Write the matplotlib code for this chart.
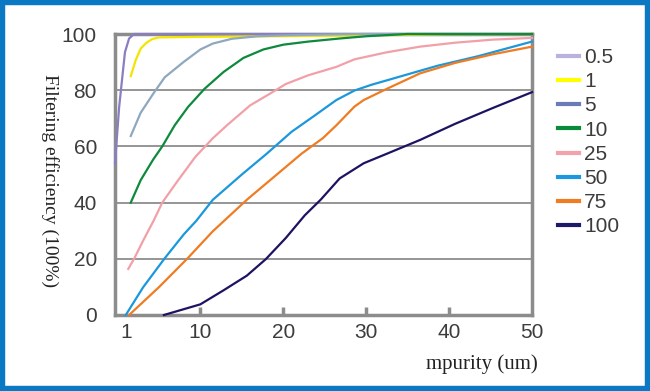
import numpy as np
import matplotlib.pyplot as plt
from matplotlib.lines import Line2D
from matplotlib.patches import Rectangle

# series (x = impurity size in um, y = efficiency %)
x_05 = [-0.3, 0.2, 0.45, 0.9, 1.4, 2.0, 50]
y_05 = [54, 74, 81, 93.5, 98.4, 100, 100]

x_1 = [1.6, 2.2, 2.8, 3.5, 4.2, 5.0, 10, 20, 30, 40, 50]
y_1 = [85, 90.7, 94.8, 96.9, 98.2, 98.8, 99.0, 99.2, 99.5, 99.9, 100]

x_5 = [1.6, 2.8, 4.3, 5.7, 8.0, 10, 11.5, 13.8, 16.9, 20, 25, 30, 40, 50]
y_5 = [63.7, 72, 78.7, 84.6, 90.1, 94.5, 96.6, 98.3, 99.2, 99.5, 99.8, 100, 100, 100]

x_10 = [1.6, 2.8, 4.3, 5.4, 6.9, 8.5, 10.5, 12.8, 15.2, 17.6, 20, 23, 26.8, 30, 35, 50]
y_10 = [40, 48, 55.3, 60, 67.5, 74, 80.5, 86.5, 91.5, 94.5, 96.2, 97.3, 98.4, 99.2, 100, 100]

x_25 = [1.3, 2.0, 3.1, 4.4, 5.4, 7.2, 9.4, 11.5, 13.2, 16, 18.3, 20.3, 23, 26.4,
        28.6, 32.5, 36.5, 40.7, 45.3, 50]
y_25 = [16.4, 20, 26.5, 33.8, 40, 47.5, 56.3, 62.9, 67.5, 74.6, 78.6, 82.2, 85.3, 88.3,
        91, 93.5, 95.5, 96.9, 98, 98.6]

x_50 = [1.0, 3.1, 5.7, 8.0, 9.5, 11.5, 15, 18, 21, 23.7, 26.4, 28.6, 30.6, 34.6,
        38.6, 43.5, 50]
y_50 = [0, 9.9, 20.2, 28.7, 33.5, 41, 50, 57.4, 65.2, 70.8, 76.5, 79.9, 81.9, 85.3,
        88.7, 92.1, 97.3]

x_75 = [1.4, 5.0, 8.4, 11.5, 15.6, 22.2, 24.8, 26.4, 28.6, 29.7, 32.5, 36.5, 40.7, 45.3, 50]
y_75 = [0, 9.9, 20, 29.8, 41, 57.4, 63, 67.5, 74.2, 76.5, 80.5, 86, 89.7, 92.8, 95.5]

x_100 = [5.6, 10, 12.8, 15.6, 17.9, 20.3, 22.6, 24.5, 26.8, 29.7, 32.5, 36.5, 40.7, 45.3, 50]
y_100 = [0, 3.8, 8.8, 14, 19.9, 27.4, 35.5, 41, 48.6, 54, 57.4, 62.3, 68, 73.7, 79.3]

labels = ['0.5', '1', '5', '10', '25', '50', '75', '100']
line_colors = ['#8a7ec2', '#f2e600', '#8fa8bd', '#0d8a3c', '#f2a0a8', '#1b98dc', '#ef7c22', '#1c1462']
legend_colors = ['#b8b2dc', '#ffff00', '#6a7bb8', '#0c8a3c', '#f3a2aa', '#1b98e0', '#f07b20', '#1e1a6a']

xs = [x_05, x_1, x_5, x_10, x_25, x_50, x_75, x_100]
ys = [y_05, y_1, y_5, y_10, y_25, y_50, y_75, y_100]

grey = '#8c8c8c'
txt = '#3c3c3c'

fig = plt.figure(figsize=(6.5, 3.91), dpi=100)
ax = fig.add_axes([115 / 650, 1 - 315 / 391, (532 - 115) / 650, (315 - 34) / 391])

ax.set_xlim(-0.3, 50)
ax.set_ylim(0, 100)

for yv in [20, 40, 60, 80]:
    ax.axhline(yv, color=grey, lw=1.3, zorder=1)

for x, y, c in zip(xs, ys, line_colors):
    ax.plot(x, y, color=c, lw=1.6, zorder=3, clip_on=False)

for s in ax.spines.values():
    s.set_color(grey)
    s.set_linewidth(2.5)
    s.set_zorder(2)

# tick marks only at 10..40, labels at 1 and 50 without marks
ax.set_xticks([10, 20, 30, 40])
ax.set_xticks([1, 50], minor=True)
ax.set_xticklabels(['1', '50'], minor=True)
ax.tick_params(axis='x', which='major', direction='in', length=6, width=2.5,
               color=grey, labelsize=15, labelcolor=txt, pad=6)
ax.tick_params(axis='x', which='minor', direction='in', length=0, labelsize=15,
               labelcolor=txt, pad=6)
ax.set_yticks([0, 20, 40, 60, 80, 100])
ax.tick_params(axis='y', length=0, labelsize=15, labelcolor=txt, pad=13)
for lab in ax.get_xticklabels(which='both') + ax.get_yticklabels():
    lab.set_fontfamily('Liberation Sans')

fig.text(50 / 650, 1 - 181 / 391, 'Filtering efficiency (100%)', rotation=-90,
         ha='center', va='center', fontsize=14, family='Liberation Serif', color='#222222')
fig.text(538 / 650, 1 - 364 / 391, 'mpurity (um)', ha='right', va='center',
         fontsize=15, family='Liberation Serif', color='#222222')

handles = [Line2D([], [], color=c, lw=3) for c in legend_colors]
leg = fig.legend(handles, labels, loc='upper left', bbox_to_anchor=(558 / 650, 1 - 48 / 391),
                 frameon=False, handlelength=1.0, handletextpad=0.25, labelspacing=0.25,
                 borderpad=0, borderaxespad=0,
                 prop={'family': 'Liberation Sans', 'size': 15})
for t in leg.get_texts():
    t.set_color(txt)

fig.add_artist(Rectangle((0, 0), 1, 1, transform=fig.transFigure, fill=False,
                         edgecolor='#0a78c2', lw=7.5))

fig.savefig('out.png', dpi=100)
